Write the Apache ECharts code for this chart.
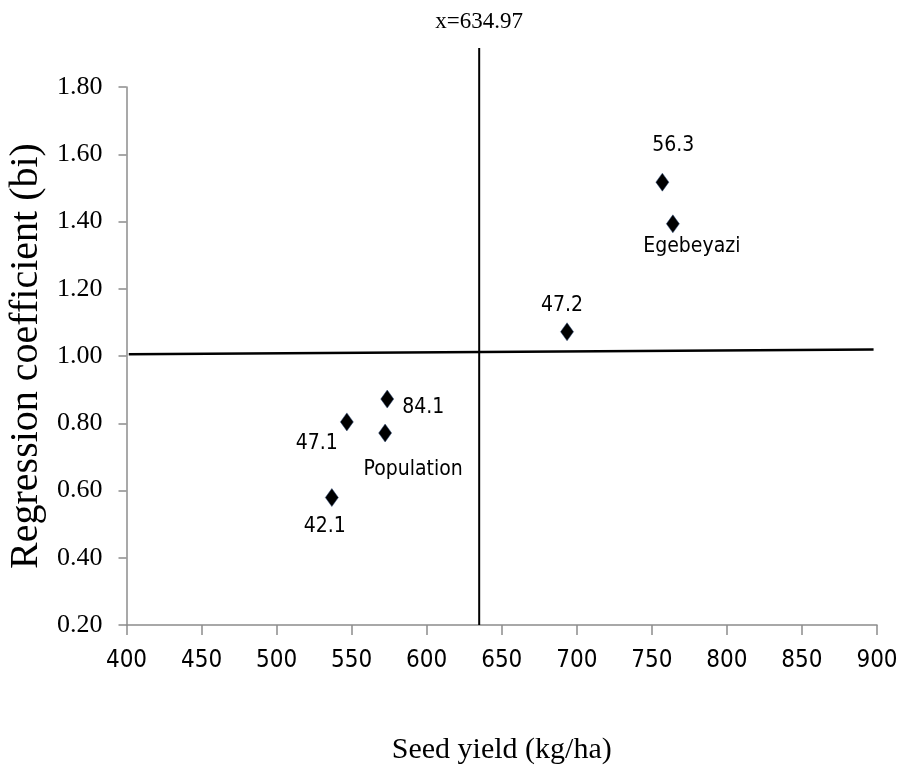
<!DOCTYPE html>
<html>
<head>
<meta charset="utf-8">
<title>Regression coefficient vs seed yield</title>
<script src="https://cdn.jsdelivr.net/npm/echarts@6/dist/echarts.min.js"></script>
<style>
  html, body { margin: 0; padding: 0; background: #fff; }
  #chart { width: 899px; height: 776px; }
</style>
</head>
<body>
<div id="chart"></div>
<script>
// data
const genotypes = ['56.3', 'Egebeyazi', '47.2', '84.1', '47.1', 'Population', '42.1']
const seedYield = [757, 764, 693.5, 573.7, 546.8, 572.3, 536.8]
const regCoef = [1.517, 1.393, 1.072, 0.872, 0.804, 0.771, 0.579]

// reference lines
const meanYield = 634.97
const vLineY = [0.2, 1.916]
const hLineX = [401.5, 897.7]
const hLineY = [1.005, 1.019]

const xTicks = [400, 450, 500, 550, 600, 650, 700, 750, 800, 850, 900]
const yTicks = [0.2, 0.4, 0.6, 0.8, 1.0, 1.2, 1.4, 1.6, 1.8]

// label offsets (px) for each point
const labelOffsets = [[11, -37], [19, 23], [-5, -26], [36, 9], [-30, 22], [28, 37], [-7, 29]]

const chartRef = document.getElementById('chart')
const chartInstance = echarts.init(chartRef, null, { renderer: 'canvas' })

const serif = '"Liberation Serif", "DejaVu Serif", serif'
const narrow = '"Liberation Sans Narrow", "DejaVu Sans Condensed", "Roboto", sans-serif'

const pointData = genotypes.map((name, i) => ({
  value: [seedYield[i], regCoef[i]],
  name: name,
  label: {
    show: true,
    formatter: name,
    position: 'inside',
    offset: labelOffsets[i],
    color: '#000',
  },
}))

const chartSet = {
  backgroundColor: '#fff',
  animation: false,
  grid: {
    left: 126.5,
    right: 22,
    top: 87,
    bottom: 151,
    containLabel: false,
    outerBoundsMode: 'none',
  },
  xAxis: {
    type: 'value',
    min: xTicks[0],
    max: xTicks[xTicks.length - 1],
    interval: 50,
    name: 'Seed yield (kg/ha)',
    nameLocation: 'middle',
    nameGap: 110,
    nameTextStyle: { fontFamily: serif, fontSize: 30, color: '#000' },
    axisLine: { show: true, onZero: false, lineStyle: { color: '#8c8c8c', width: 1.5 } },
    axisTick: { show: true, inside: false, length: 10, lineStyle: { color: '#8c8c8c', width: 1.5 } },
    axisLabel: { margin: 24, fontFamily: narrow, fontSize: 24, color: '#000' },
    splitLine: { show: false },
  },
  yAxis: {
    type: 'value',
    min: yTicks[0],
    max: yTicks[yTicks.length - 1],
    interval: 0.2,
    name: 'Regression coefficient (bi)',
    nameLocation: 'middle',
    nameGap: 72,
    nameTextStyle: { fontFamily: serif, fontSize: 40, color: '#000' },
    axisLine: { show: true, onZero: false, lineStyle: { color: '#8c8c8c', width: 1.5 } },
    axisTick: { show: true, inside: false, length: 8, lineStyle: { color: '#8c8c8c', width: 1.5 } },
    axisLabel: {
      margin: 24,
      fontFamily: serif,
      fontSize: 26,
      color: '#000',
      formatter: (v) => v.toFixed(2),
    },
    splitLine: { show: false },
  },
  series: [
    {
      // mean yield line
      type: 'line',
      clip: false,
      symbol: 'none',
      silent: true,
      lineStyle: { color: '#000', width: 2 },
      data: vLineY.map((y) => [meanYield, y]),
      endLabel: {
        show: true,
        formatter: 'x=' + meanYield,
        fontFamily: serif,
        fontSize: 23,
        color: '#000',
        align: 'center',
        verticalAlign: 'bottom',
        offset: [0, -15],
        distance: 0,
      },
      z: 1,
    },
    {
      // bi = 1 line
      type: 'line',
      clip: false,
      symbol: 'none',
      silent: true,
      lineStyle: { color: '#000', width: 2.5 },
      data: hLineX.map((x, i) => [x, hLineY[i]]),
      z: 1,
    },
    {
      type: 'scatter',
      symbol: 'diamond',
      symbolSize: [13, 18],
      itemStyle: { color: '#000', opacity: 1, borderColor: '#2b4a7a', borderWidth: 0.5 },
      label: { fontFamily: narrow, fontSize: 21, color: '#000' },
      data: pointData,
      z: 3,
    },
  ],
}

chartInstance.setOption(chartSet)
</script>
</body>
</html>
